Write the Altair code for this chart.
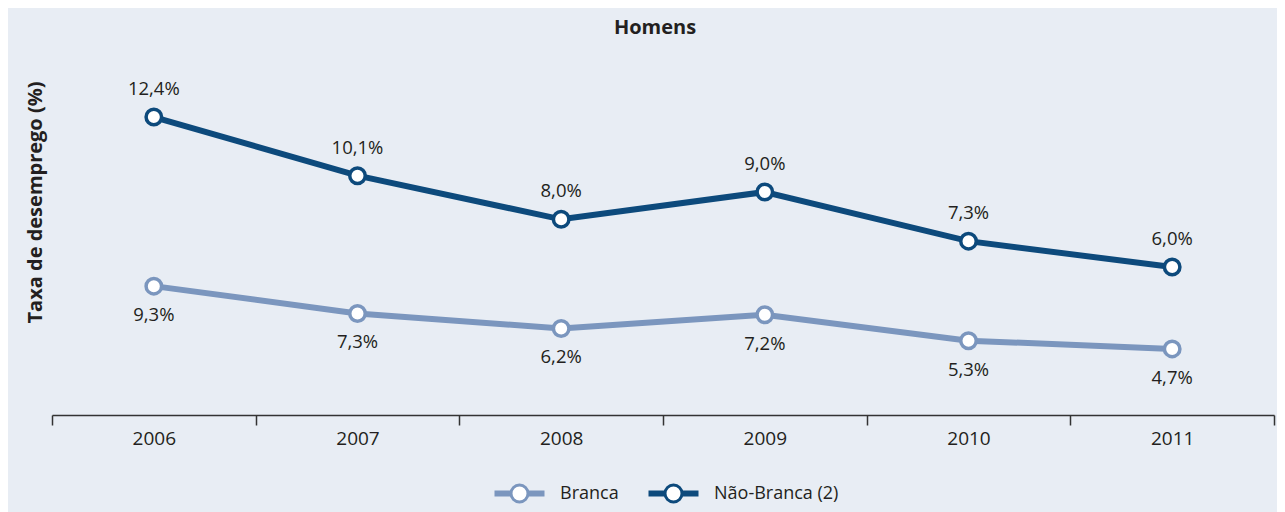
import altair as alt
import pandas as pd

years = ["2006", "2007", "2008", "2009", "2010", "2011"]
series_names = ["Branca", "Não-Branca (2)"]
branca = [9.3, 7.3, 6.2, 7.2, 5.3, 4.7]
nao_branca = [12.4, 10.1, 8.0, 9.0, 7.3, 6.0]
colors = ["#7b96be", "#0d4a7c"]

rows = []
for i, (name, vals) in enumerate(zip(series_names, [branca, nao_branca])):
    for y, v in zip(years, vals):
        rows.append({"year": y, "series": name, "idx": i, "value": v})
df = pd.DataFrame(rows)

FONT = "Open Sans"
TEXT = "#231f20"

base = alt.Chart(df).transform_window(
    stacked="sum(value)",
    groupby=["year"],
    sort=[alt.SortField("idx")],
    frame=[None, 0],
).transform_calculate(
    label="replace(format(datum.value, '.1f'), '.', ',') + '%'"
)

x_enc = alt.X(
    "year:O",
    scale=alt.Scale(type="band", paddingInner=0, paddingOuter=0),
    bandPosition=0.5,
    axis=alt.Axis(
        title=None, labelAngle=0, tickBand="extent", tickSize=10,
        tickColor="#333333", domainColor="#333333", tickWidth=1.5, domainWidth=1.5,
        labelFont=FONT, labelFontSize=19, labelColor=TEXT, labelPadding=4,
        offset=2, grid=False,
    ),
)
y_enc = alt.Y(
    "stacked:Q",
    scale=alt.Scale(domain=[0, 25]),
    axis=alt.Axis(
        title="Taxa de desemprego (%)", labels=False, ticks=False, domain=False,
        grid=False, titleFont=FONT, titleFontSize=20, titleFontWeight="bold",
        titleColor=TEXT, titleX=-17, titleY=130, titleAngle=270,
        titleAlign="center", titleBaseline="middle",
    ),
)

legend_symbol = (
    "M-1,-0.06L-0.36,-0.06M-1,0.06L-0.36,0.06"
    "M0.36,-0.06L1,-0.06M0.36,0.06L1,0.06"
    "M0.34,0A0.34,0.34 0 1,1 -0.34,0A0.34,0.34 0 1,1 0.34,0Z"
)
stroke_enc = alt.Stroke(
    "series:N",
    scale=alt.Scale(domain=series_names, range=colors),
    legend=alt.Legend(
        title=None, orient="none", direction="horizontal",
        legendX=441, legendY=395,
        symbolType=legend_symbol, symbolSize=2500, symbolStrokeWidth=3,
        symbolFillColor="white", labelFont=FONT, labelFontSize=18,
        labelColor=TEXT, labelOffset=14, columnPadding=23,
    ),
)

line = base.mark_line(strokeWidth=6).encode(x=x_enc, y=y_enc, stroke=stroke_enc)
points = base.mark_point(
    filled=True, fill="white", size=240, strokeWidth=3.5, opacity=1
).encode(x=x_enc, y=y_enc, stroke=stroke_enc)

labels_top = base.transform_filter(alt.datum.idx == 1).mark_text(
    dy=-28, font=FONT, fontSize=18.5, color=TEXT
).encode(x=x_enc, y=y_enc, text="label:N")
labels_bot = base.transform_filter(alt.datum.idx == 0).mark_text(
    dy=29, font=FONT, fontSize=18.5, color=TEXT
).encode(x=x_enc, y=y_enc, text="label:N")

chart = alt.layer(line, points, labels_top, labels_bot).properties(
    width=1222,
    height=341,
    title=alt.TitleParams(
        "Homens", font=FONT, fontSize=20, fontWeight="bold", color=TEXT,
        anchor="middle", frame="group", offset=18, dx=-8, baseline="alphabetic",
    ),
    padding={"left": 44, "top": 64, "right": 3, "bottom": 99},
    autosize=alt.AutoSizeParams(type="none"),
    background="#e8edf4",
).configure_view(stroke=None)

chart.save("out.html", embed_options={"renderer": "svg", "actions": False})
